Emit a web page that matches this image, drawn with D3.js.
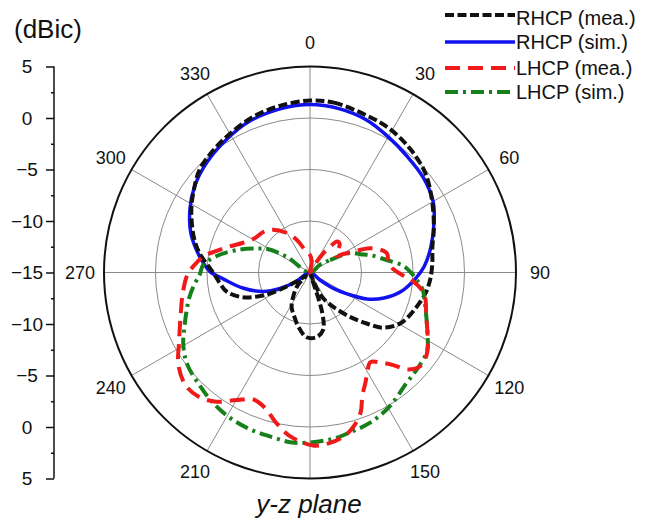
<!DOCTYPE html>
<html>
<head>
<meta charset="utf-8">
<script src="https://cdn.jsdelivr.net/npm/d3@7"></script>
<style>
  body { margin: 0; background: #fff; }
  text { font-family: "Liberation Sans", Arial, sans-serif; fill: #111; }
</style>
</head>
<body>
<svg id="chart" width="647" height="522"></svg>
<script>
// gain patterns in y-z plane, dBic vs angle (deg, 0 = top, clockwise)
const rhcpMeaAngle = [0, 8, 20, 29, 39, 49, 59, 70, 78, 86, 93, 100, 109, 119, 127, 132, 138, 146, 153, 157, 160, 163, 167, 174, 183, 192, 200, 208, 216, 224, 231, 236, 240, 244, 250, 257, 263, 268, 273, 280, 287, 298, 306, 313, 322, 330, 340, 350];
const rhcpMeaGain = [1.7, 1.65, 1.2, 0.95, 0.45, -0.2, -1.2, -2.2, -2.85, -3.1, -3.3, -3.6, -4.2, -4.9, -6.1, -7.6, -9.2, -11.0, -12.2, -13.3, -14.8, -11, -9.3, -8.7, -8.7, -9.6, -10.5, -11.2, -12.3, -13.3, -14.5, -13.6, -11.8, -9.9, -8.0, -6.7, -6.2, -5.8, -5.2, -4.1, -3.2, -1.95, -1.1, -0.35, 0.15, 0.55, 1.1, 1.45];

const rhcpSimAngle = [0, 10, 20, 30, 40, 50, 60, 67, 78, 87, 93, 102, 109, 115, 119, 124, 127, 180, 237, 242, 248, 257, 266, 270, 273, 278, 288, 298, 307, 317, 328, 338, 350];
const rhcpSimGain = [1.3, 1.15, 0.8, 0.2, -0.3, -0.65, -1.2, -1.9, -3.0, -3.9, -4.7, -6.0, -7.4, -8.9, -10.5, -12.2, -13.8, -15, -13.3, -11.7, -10.1, -8.3, -6.5, -5.4, -4.9, -4.2, -2.85, -1.8, -1.0, -0.35, 0.25, 0.8, 1.15];

const lhcpMeaAngle = [0, 9, 20, 32, 34, 38, 41, 46, 52, 58, 61, 64, 66, 68, 72, 76, 82, 87, 91, 94, 99, 103, 110, 117, 122, 127, 131, 135, 138, 141, 146, 149, 153, 157, 160, 164, 168, 174, 179, 187, 193, 198, 204, 210, 216, 222, 228, 235, 242, 252, 261, 269, 274, 279, 283, 288, 294, 302, 311, 319, 329, 338, 348];
const lhcpMeaGain = [-13.3, -13.9, -15, -13.8, -12.9, -11.8, -11.0, -11.0, -11.6, -12.0, -11.3, -10.4, -9.5, -8.7, -7.8, -7.3, -7.3, -7.0, -6.2, -5.2, -4.0, -3.5, -3.0, -2.2, -1.5, -1.0, -1.0, -1.7, -2.9, -3.7, -4.5, -4.1, -3.1, -2.0, -0.6, 0.5, 1.2, 1.7, 1.8, 1.0, -0.1, -1.1, -1.5, -0.7, 0.5, 1.2, 1.3, 0.6, -0.6, -1.8, -2.5, -3.1, -3.8, -4.6, -5.7, -6.8, -7.9, -8.7, -9.0, -9.5, -10.5, -11.6, -12.8];

const lhcpSimAngle = [52, 58, 64, 70, 74, 81, 86, 90, 94, 99, 103, 110, 117, 124, 132, 139, 149, 158, 166, 172, 180, 186, 193, 201, 209, 217, 224, 233, 240, 248, 258, 264, 269, 274, 280, 288, 295, 299, 304, 330];
const lhcpSimGain = [-13.8, -12.7, -10.7, -9.8, -8.9, -7.4, -5.9, -5.2, -4.6, -3.9, -3.6, -3.0, -2.2, -1.3, -1.0, -0.75, 0.1, 0.7, 1.0, 1.3, 1.5, 1.6, 1.4, 1.3, 1.1, 0.75, 0.35, -0.1, -0.8, -1.9, -3.0, -3.7, -4.3, -4.6, -5.8, -7.8, -9.5, -10.3, -12.3, -15];

const seriesNames = ["RHCP (mea.)", "RHCP (sim.)", "LHCP (mea.)", "LHCP (sim.)"];
const seriesColors = ["#111111", "#1212ee", "#f01a1a", "#16801a"];
const seriesDash = ["9,3.5", null, "15,8", "13,5,3,5"];
const seriesWidth = [4, 3.5, 4, 4];

const angleTicks = [0, 30, 60, 90, 120, 150, 210, 240, 270, 300, 330];
const gridLevels = [-10, -5, 0];
const axisMajor = [5, 0, -5, -10, -15];
const axisMinor = [2.5, -2.5, -7.5, -12.5];

const svg = d3.select("#chart");
const cx = 310, cy = 272.5, R = 206;

let r = d3.scaleLinear().domain([-15, 5]).range([0, R]).clamp(true);

let g = svg.append("g").attr("transform", "translate(" + cx + "," + cy + ")");

// grid circles
g.selectAll(".grid")
  .data(gridLevels)
  .enter().append("circle")
  .attr("r", function(d) { return r(d); })
  .attr("fill", "none")
  .attr("stroke", "#8a8a8a")
  .attr("stroke-width", 1);

// spokes
let allSpokes = d3.range(0, 360, 30);
g.selectAll(".spoke")
  .data(allSpokes)
  .enter().append("line")
  .attr("x1", 0).attr("y1", 0)
  .attr("x2", function(d) { return R * Math.sin(d * Math.PI / 180); })
  .attr("y2", function(d) { return -R * Math.cos(d * Math.PI / 180); })
  .attr("stroke", "#8a8a8a")
  .attr("stroke-width", 1);

// outer ring
g.append("circle")
  .attr("r", r(5))
  .attr("fill", "none")
  .attr("stroke", "#111")
  .attr("stroke-width", 2);

// angle labels
g.selectAll(".alabel")
  .data(angleTicks)
  .enter().append("text")
  .attr("x", function(d) { return 230 * Math.sin(d * Math.PI / 180); })
  .attr("y", function(d) { return -230 * Math.cos(d * Math.PI / 180); })
  .attr("dy", "0.36em")
  .attr("text-anchor", "middle")
  .style("font-size", "18px")
  .text(function(d) { return d; });

// curves
let line = d3.lineRadial()
  .angle(function(d) { return d[0] * Math.PI / 180; })
  .radius(function(d) { return r(d[1]); })
  .curve(d3.curveCatmullRomClosed.alpha(0.5));

let curves = [
  d3.zip(rhcpMeaAngle, rhcpMeaGain),
  d3.zip(rhcpSimAngle, rhcpSimGain),
  d3.zip(lhcpMeaAngle, lhcpMeaGain),
  d3.zip(lhcpSimAngle, lhcpSimGain)
];
let drawOrder = [1, 0, 3, 2];
drawOrder.forEach(function(i) {
  g.append("path")
    .attr("d", line(curves[i]))
    .attr("fill", "none")
    .attr("stroke", seriesColors[i])
    .attr("stroke-width", seriesWidth[i])
    .attr("stroke-dasharray", seriesDash[i]);
});

// left dB axis (mirrored above / below the centre)
const axisX = 54;
let yTop = d3.scaleLinear().domain([5, -15]).range([cy - R, cy]);
let yBot = d3.scaleLinear().domain([-15, 5]).range([cy, cy + R]);

svg.append("line")
  .attr("x1", axisX).attr("x2", axisX)
  .attr("y1", cy - R).attr("y2", cy + R)
  .attr("stroke", "#111").attr("stroke-width", 1.5);

[[yTop, axisMajor], [yBot, axisMajor.filter(function(v) { return v !== -15; })]].forEach(function(p) {
  let ax = svg.append("g")
    .attr("transform", "translate(" + axisX + ",0)")
    .call(d3.axisLeft(p[0]).tickValues(p[1]).tickSize(8).tickSizeOuter(0));
  ax.select(".domain").remove();
  ax.selectAll("line").attr("stroke", "#111").attr("stroke-width", 1.5);
  ax.selectAll("text")
    .attr("x", -27)
    .attr("text-anchor", "middle")
    .style("font-size", "19px")
    .style("font-family", "'Liberation Sans', Arial, sans-serif")
    .attr("fill", "#111");

  let mn = svg.append("g")
    .attr("transform", "translate(" + axisX + ",0)")
    .call(d3.axisLeft(p[0]).tickValues(axisMinor).tickSize(3).tickSizeOuter(0).tickFormat(""));
  mn.select(".domain").remove();
  mn.selectAll("line").attr("stroke", "#111").attr("stroke-width", 1.5);
});

svg.append("text")
  .attr("x", 14).attr("y", 38)
  .style("font-size", "26px")
  .text("(dBic)");

// title
svg.append("text")
  .attr("x", 309).attr("y", 513)
  .attr("text-anchor", "middle")
  .style("font-size", "26px")
  .style("font-style", "italic")
  .text("y-z plane");

// legend
let legend = svg.selectAll(".legend")
  .data(seriesNames)
  .enter().append("g")
  .attr("transform", function(d, i) { return "translate(0," + [15, 42, 68, 92][i] + ")"; });

legend.append("line")
  .attr("x1", 445).attr("x2", 515)
  .attr("stroke", function(d, i) { return seriesColors[i]; })
  .attr("stroke-width", function(d, i) { return seriesWidth[i]; })
  .attr("stroke-dasharray", function(d, i) { return seriesDash[i]; });

legend.append("text")
  .attr("x", 516)
  .attr("y", function(d, i) { return i === 0 ? 10 : 7; })
  .style("font-size", "20px")
  .text(function(d) { return d; });
</script>
</body>
</html>
